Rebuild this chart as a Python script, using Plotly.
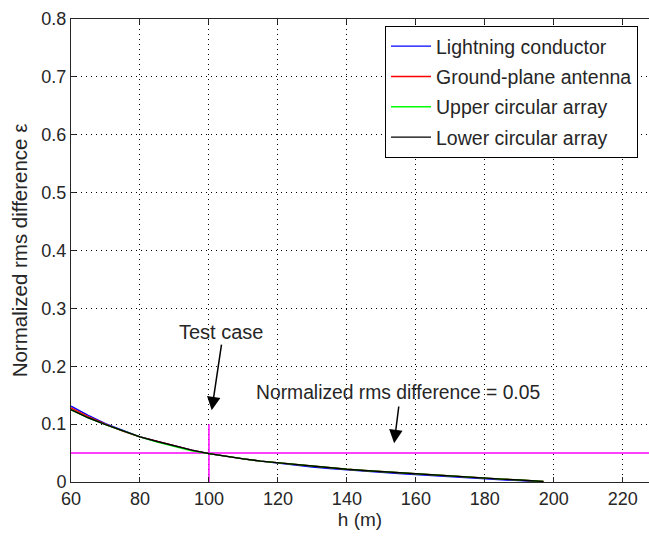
import plotly.graph_objects as go

# ---------------- data ----------------
h = [60, 65, 70, 75, 80, 85, 90, 95, 100, 105, 110, 115, 120, 125, 130, 135,
     140, 145, 150, 155, 160, 165, 170, 175, 180, 185, 190, 195, 197]

lower_circular = [0.125, 0.111, 0.099, 0.088, 0.078, 0.070, 0.062, 0.055, 0.049,
                  0.044, 0.040, 0.036, 0.033, 0.030, 0.027, 0.0245, 0.022, 0.020,
                  0.018, 0.016, 0.014, 0.012, 0.010, 0.008, 0.0065, 0.005, 0.0035,
                  0.002, 0.001]
lightning = [0.131, 0.115, 0.101, 0.089, 0.078, 0.070, 0.062, 0.055, 0.049,
             0.044, 0.040, 0.036, 0.0325, 0.0288, 0.0258, 0.0233, 0.0208, 0.0188,
             0.0168, 0.0148, 0.0128, 0.0108, 0.0088, 0.0068, 0.0053, 0.0038, 0.0023,
             0.0008, 0.0]
ground_plane = [0.128, 0.113, 0.100, 0.088, 0.078, 0.070, 0.062, 0.055, 0.049,
                0.044, 0.040, 0.036, 0.033, 0.030, 0.027, 0.0245, 0.022, 0.020,
                0.018, 0.016, 0.014, 0.012, 0.010, 0.008, 0.0065, 0.005, 0.0035,
                0.002, 0.001]
upper_circular = [0.125, 0.111, 0.099, 0.088, 0.078, 0.069, 0.061, 0.054, 0.049,
                  0.044, 0.040, 0.036, 0.033, 0.030, 0.027, 0.0245, 0.022, 0.020,
                  0.018, 0.016, 0.014, 0.012, 0.010, 0.008, 0.0065, 0.005, 0.0035,
                  0.002, 0.001]

threshold = 0.05
test_h = 100
test_line_top = 0.1
x_range = [60, 227.6]
y_range = [0, 0.8]
x_ticks = [60, 80, 100, 120, 140, 160, 180, 200, 220]
y_ticks = [0, 0.1, 0.2, 0.3, 0.4, 0.5, 0.6, 0.7, 0.8]
y_tick_labels = ["0", "0.1", "0.2", "0.3", "0.4", "0.5", "0.6", "0.7", "0.8"]

series = [
    ("Lightning conductor", lightning, "#0000ff"),
    ("Ground-plane antenna", ground_plane, "#ff0000"),
    ("Upper circular array", upper_circular, "#00ff00"),
    ("Lower circular array", lower_circular, "#000000"),
]

FONT = "Liberation Sans, Arial, Helvetica, sans-serif"
TXT = "#262626"

fig = go.Figure()

# reference lines
fig.add_trace(go.Scatter(x=[x_range[0], x_range[1]], y=[threshold, threshold],
                         mode="lines", line=dict(color="#ff00ff", width=1.5),
                         showlegend=False, hoverinfo="skip"))
fig.add_trace(go.Scatter(x=[test_h, test_h], y=[0, test_line_top],
                         mode="lines", line=dict(color="#ff00ff", width=1.5),
                         showlegend=False, hoverinfo="skip"))

for i, (name, vals, col) in enumerate(series):
    fig.add_trace(go.Scatter(x=h, y=vals, mode="lines", name=name,
                             line=dict(color=col, width=1.4),
                             legendgroup=f"g{i}"))

axis_common = dict(
    showline=True, linecolor=TXT, linewidth=1,
    ticks="inside", ticklen=5, tickcolor=TXT,
    showgrid=True, gridcolor="#000000", gridwidth=1, griddash="1px,4px",
    zeroline=False,
    tickfont=dict(family=FONT, size=18, color=TXT),
)

fig.update_xaxes(range=x_range, tickvals=x_ticks, mirror="ticks",
                 title=dict(text="h (m)", font=dict(family=FONT, size=19, color=TXT),
                            standoff=4),
                 **axis_common)
fig.update_yaxes(range=y_range, tickvals=y_ticks, ticktext=y_tick_labels,
                 mirror=False,
                 title=dict(text="Normalized rms difference ε",
                            font=dict(family=FONT, size=20.5, color=TXT), standoff=8),
                 **axis_common)

# annotations
fig.add_annotation(x=103.5, y=0.259, xref="x", yref="y", text="Test case",
                   showarrow=False, font=dict(family=FONT, size=20, color=TXT))
fig.add_annotation(x=100.8, y=0.124, ax=103.7, ay=0.240, xref="x", yref="y",
                   axref="x", ayref="y", text="", showarrow=True,
                   arrowhead=2, arrowsize=1.8, arrowwidth=1.5, arrowcolor="#000000")
fig.add_annotation(x=154.8, y=0.154, xref="x", yref="y",
                   text="Normalized rms difference = 0.05",
                   showarrow=False, font=dict(family=FONT, size=19.3, color=TXT))
fig.add_annotation(x=153.7, y=0.067, ax=155.1, ay=0.133, xref="x", yref="y",
                   axref="x", ayref="y", text="", showarrow=True,
                   arrowhead=2, arrowsize=1.8, arrowwidth=1.5, arrowcolor="#000000")

fig.update_layout(
    width=649, height=537,
    margin=dict(l=71, r=0, t=19, b=55),
    paper_bgcolor="white", plot_bgcolor="white",
    font=dict(family=FONT, size=18, color=TXT),
    legend=dict(x=0.981, y=0.985, xanchor="right", yanchor="top",
                bgcolor="white", bordercolor="#000000", borderwidth=1,
                font=dict(family=FONT, size=19.5, color=TXT),
                tracegroupgap=2, itemwidth=40),
    showlegend=True,
)

fig.write_html("out.html")
